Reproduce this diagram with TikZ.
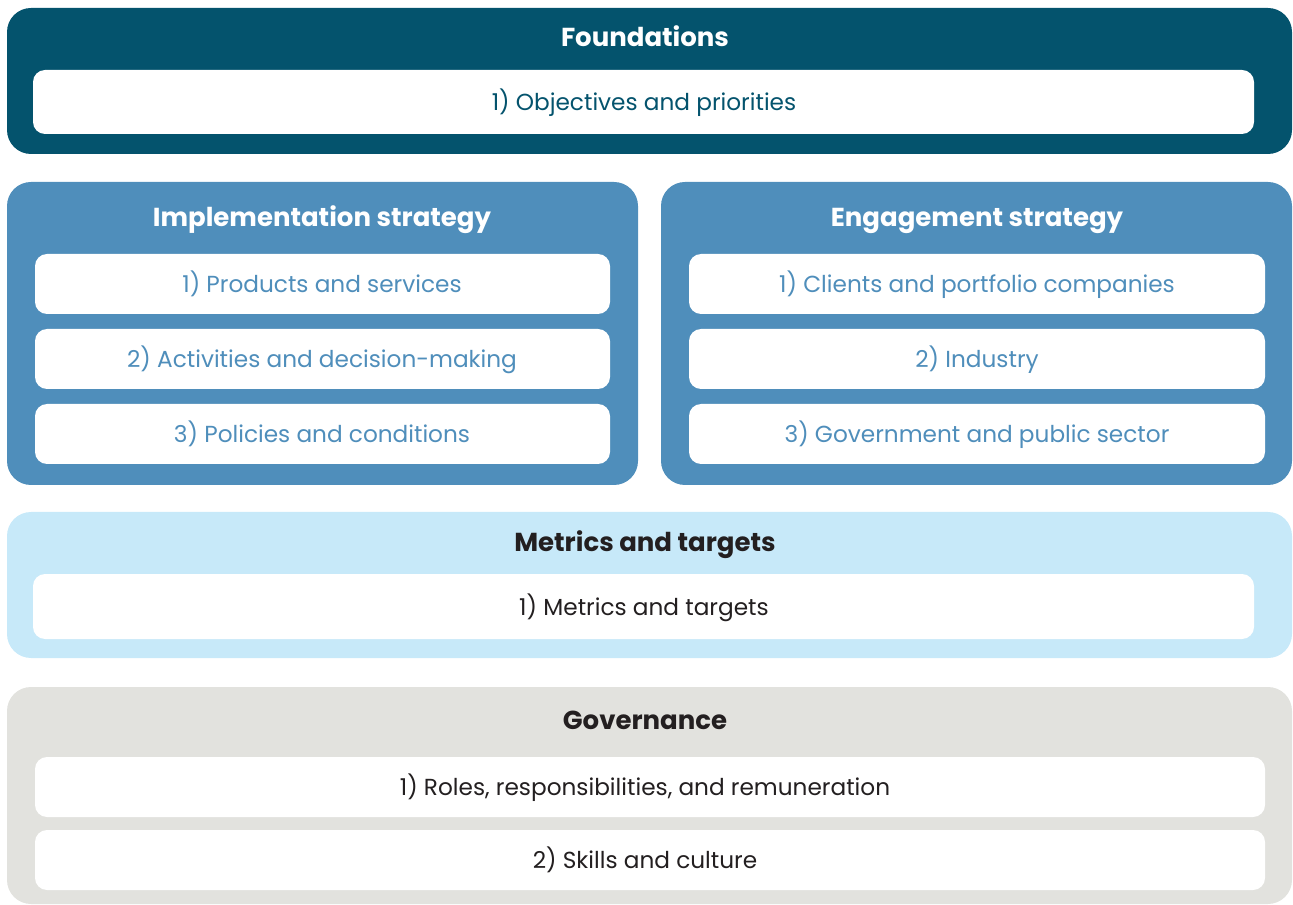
\documentclass[tikz,border=0pt]{standalone}
\usepackage{fontspec}
\setmainfont{Poppins}
\definecolor{cfound}{HTML}{04536D}
\definecolor{cimpl}{HTML}{4F8EBB}
\definecolor{cmetr}{HTML}{C7E9F9}
\definecolor{cgov}{HTML}{E2E2DE}
\definecolor{cdark}{HTML}{231F20}
\newcommand\pxu{0.75pt}
\begin{document}
\begin{tikzpicture}[x=0.75pt,y=-0.75pt,
  outerbox/.style={rectangle, rounded corners=18pt, inner sep=0pt, outer sep=0pt, draw=none},
  innerbox/.style={rectangle, fill=white, rounded corners=9pt, inner sep=0pt, outer sep=0pt, draw=none},
  headtext/.style={anchor=base, inner sep=0pt, font=\fontsize{19.5}{22}\selectfont\bfseries},
  bodytext/.style={anchor=base, inner sep=0pt, font=\fontsize{17.4}{20}\selectfont}
]
\useasboundingbox (0,0) rectangle (1293,905);
% Foundations
\node[outerbox, fill=cfound, minimum width=1285*\pxu, minimum height=146*\pxu] (found) at (649.5,81) {};
\node[innerbox, minimum width=1221*\pxu, minimum height=64*\pxu] (found1) at (643.5,102) {};
\node[headtext, text=white] (foundh) at (645,47) {Foundations};
\node[bodytext, text=cfound] (found1t) at (644,110.5) {1) Objectives and priorities};
% Implementation
\node[outerbox, fill=cimpl, minimum width=631*\pxu, minimum height=303*\pxu] (impl) at (322.5,333.5) {};
\node[innerbox, minimum width=575*\pxu, minimum height=60*\pxu] (impl1) at (322.5,284) {};
\node[innerbox, minimum width=575*\pxu, minimum height=60*\pxu] (impl2) at (322.5,359) {};
\node[innerbox, minimum width=575*\pxu, minimum height=60*\pxu] (impl3) at (322.5,434) {};
\node[headtext, text=white] (implh) at (322,226.5) {Implementation strategy};
\node[bodytext, text=cimpl] (impl1t) at (322,292.5) {1) Products and services};
\node[bodytext, text=cimpl] (impl2t) at (322,367.5) {2) Activities and decision-making};
\node[bodytext, text=cimpl] (impl3t) at (322,442.5) {3) Policies and conditions};
% Engagement
\node[outerbox, fill=cimpl, minimum width=631*\pxu, minimum height=303*\pxu] (eng) at (976.5,333.5) {};
\node[innerbox, minimum width=576*\pxu, minimum height=60*\pxu] (eng1) at (977,284) {};
\node[innerbox, minimum width=576*\pxu, minimum height=60*\pxu] (eng2) at (977,359) {};
\node[innerbox, minimum width=576*\pxu, minimum height=60*\pxu] (eng3) at (977,434) {};
\node[headtext, text=white] (engh) at (977,226.5) {Engagement strategy};
\node[bodytext, text=cimpl] (eng1t) at (977,292.5) {1) Clients and portfolio companies};
\node[bodytext, text=cimpl] (eng2t) at (977,367.5) {2) Industry};
\node[bodytext, text=cimpl] (eng3t) at (977,442.5) {3) Government and public sector};
% Metrics
\node[outerbox, fill=cmetr, minimum width=1285*\pxu, minimum height=146*\pxu] (metr) at (649.5,585) {};
\node[innerbox, minimum width=1221*\pxu, minimum height=65*\pxu] (metr1) at (643.5,606.5) {};
\node[headtext, text=cdark] (metrh) at (645,551.5) {Metrics and targets};
\node[bodytext, text=cdark] (metr1t) at (644,615) {1) Metrics and targets};
% Governance
\node[outerbox, fill=cgov, minimum width=1285*\pxu, minimum height=217*\pxu] (gov) at (649.5,795.5) {};
\node[innerbox, minimum width=1230*\pxu, minimum height=60*\pxu] (gov1) at (650,787) {};
\node[innerbox, minimum width=1230*\pxu, minimum height=60*\pxu] (gov2) at (650,860) {};
\node[headtext, text=cdark] (govh) at (645,729.5) {Governance};
\node[bodytext, text=cdark] (gov1t) at (645,795.5) {1) Roles, responsibilities, and remuneration};
\node[bodytext, text=cdark] (gov2t) at (645,868.5) {2) Skills and culture};
\end{tikzpicture}
\end{document}
